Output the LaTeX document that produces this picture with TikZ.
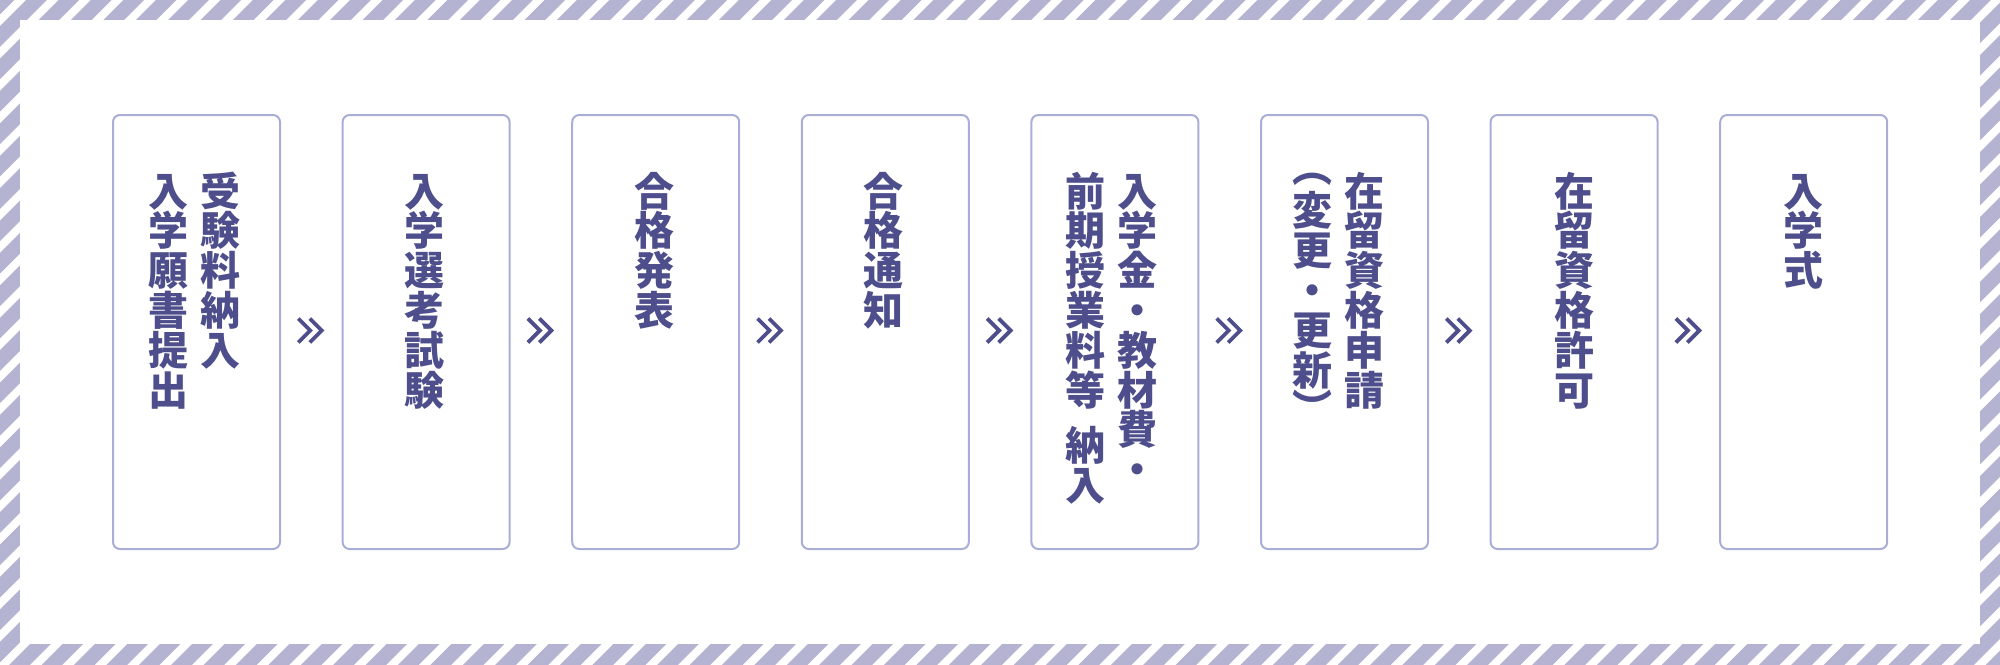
\documentclass[tikz,border=0pt]{standalone}
\usepackage{fontspec}
\newfontfamily\jp{Noto Sans CJK JP}
\usetikzlibrary{calc}
\definecolor{stripec}{RGB}{180,180,210}
\definecolor{boxc}{RGB}{168,174,214}
\definecolor{txtc}{RGB}{78,78,140}
\newcommand\vcol[3]{%
  \foreach \p/\c [count=\i] in {#3}
    \node[jch,anchor=base] (#1-\i) at (#2,{206+39.8*\p}) {\c};}
\begin{document}
\begin{tikzpicture}[x=1pt,y=-1pt,
  stripe/.style={draw=stripec,line width=14.6pt},
  stepbox/.style={draw=boxc,line width=2pt,rounded corners=7pt,minimum width=167pt,minimum height=434pt,inner sep=0pt,fill=white},
  jch/.style={inner sep=0pt,text=txtc,font=\jp\bfseries\fontsize{40}{40}\selectfont},
  chev/.style={draw=txtc,line width=3.8pt,line join=miter,line cap=butt}]
\useasboundingbox (0,0) rectangle (2000,664);
% striped frame
\begin{scope}
\clip (0,0) rectangle (2000,664);
\foreach \i in {-3,...,84} \draw[stripe] ({56.5+32.4*\i},-20) -- ++(-720,720);
\end{scope}
\fill[white] (20,20) rectangle (1980,644);
% boxes
\foreach \k in {1,...,8} \node[stepbox] (b\k) at ({196.5+229.6*(\k-1)},332) {};
% chevrons
\foreach \k [evaluate=\k as \n using int(\k+1)] in {1,...,7} {
  \coordinate (m\k) at ($(b\k.east)!0.5!(b\n.west)$);
  \draw[chev] ([shift={(-13,-13.5)}]m\k) -- ++(12,12) -- ++(-12,12);
  \draw[chev] ([shift={(-1.5,-13.5)}]m\k) -- ++(12,12) -- ++(-12,12);
}
% texts (vertical columns)
\vcol{t1r}{220}{0/受,1/験,2/料,3/納,4/入}
\vcol{t1l}{168.5}{0/入,1/学,2/願,3/書,4/提,5/出}
\vcol{t2}{424.6}{0/入,1/学,2/選,3/考,4/試,5/験}
\vcol{t3}{654.2}{0/合,1/格,2/発,3/表}
\vcol{t4}{883.8}{0/合,1/格,2/通,3/知}
\vcol{t5r}{1137.9}{0/入,1/学,2/金,3/・,4/教,5/材,6/費,7/・}
\vcol{t5l}{1085.9}{0/前,1/期,2/授,3/業,4/料,5/等,6.4/納,7.4/入}
\vcol{t6r}{1364.5}{0/在,1/留,2/資,3/格,4/申,5/請}
\vcol{t6l}{1312.5}{0.5/変,1.5/更,2.5/・,3.5/更,4.5/新}
\node[jch] (t6o) at (1312.5,179.5) {︵};
\node[jch] (t6c) at (1312.5,406.5) {︶};
\vcol{t7}{1574.1}{0/在,1/留,2/資,3/格,4/許,5/可}
\vcol{t8}{1803.7}{0/入,1/学,2/式}
\end{tikzpicture}
\end{document}
